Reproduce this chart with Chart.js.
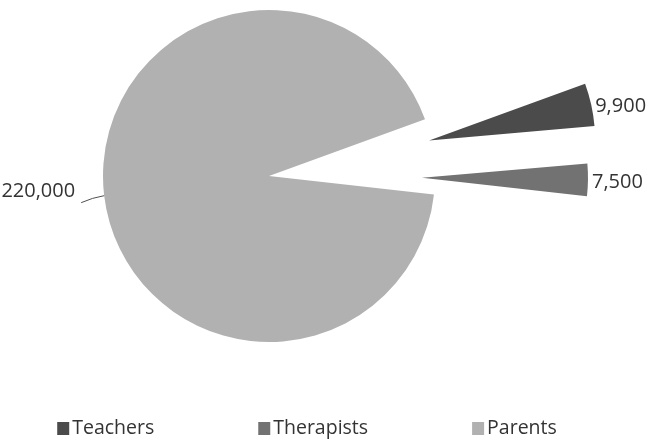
<!DOCTYPE html>
<html>
<head>
<meta charset="utf-8">
<script src="https://cdn.jsdelivr.net/npm/chart.js@4.4.0/dist/chart.umd.min.js"></script>
<style>
  html, body { margin: 0; padding: 0; background: #fff; }
</style>
</head>
<body>
<canvas id="canvas" width="646" height="441"></canvas>
<script>
var labels = ['Teachers', 'Therapists', 'Parents'];
var values = [9900, 7500, 220000];
var colors = ['#4b4b4b', '#727272', '#b1b1b1'];
// how far each slice is pulled out of the pie, px
var explodeBy = [164, 153, 0];

var textColor = '#333333';

// move the small slices out along their mid angle
var explode = {
    id: 'explode',
    afterDatasetUpdate: function (chart, args) {
        args.meta.data.forEach(function (arc, i) {
            var d = explodeBy[i] || 0;
            var mid = (arc.startAngle + arc.endAngle) / 2;
            arc.x += Math.cos(mid) * d;
            arc.y += Math.sin(mid) * d;
        });
    }
};

var valueLabels = {
    id: 'valueLabels',
    afterDatasetsDraw: function (chart) {
        var ctx = chart.ctx;
        var arcs = chart.getDatasetMeta(0).data;
        ctx.save();
        ctx.font = '20px "Open Sans"';
        ctx.fillStyle = textColor;
        ctx.textBaseline = 'middle';
        arcs.forEach(function (arc, i) {
            var mid = (arc.startAngle + arc.endAngle) / 2;
            var px = arc.x + Math.cos(mid) * arc.outerRadius;
            var py = arc.y + Math.sin(mid) * arc.outerRadius;
            var text = values[i].toLocaleString('en-US');
            if (explodeBy[i]) {
                ctx.textAlign = 'left';
                ctx.fillText(text, px + 4, py + 2);
            } else {
                // leader line for the big slice
                ctx.strokeStyle = '#505050';
                ctx.lineWidth = 1;
                ctx.beginPath();
                ctx.moveTo(px, py);
                ctx.quadraticCurveTo(px - 12, py + 2, px - 23, py + 7);
                ctx.stroke();
                ctx.textAlign = 'right';
                ctx.fillText(text, px - 29, py - 4);
            }
        });
        ctx.restore();
    }
};

// one row legend under the pie
var legendRow = {
    id: 'legendRow',
    afterDraw: function (chart) {
        var ctx = chart.ctx;
        var box = 12, textGap = 3, itemGap = 104;
        ctx.save();
        ctx.font = '19.5px "Open Sans"';
        ctx.textBaseline = 'middle';
        ctx.textAlign = 'left';
        var widths = labels.map(function (l) {
            return box + textGap + ctx.measureText(l).width;
        });
        var total = widths.reduce(function (a, b) { return a + b; }, 0) + itemGap * (labels.length - 1);
        var x = 307 - total / 2;
        var y = 428;
        labels.forEach(function (l, i) {
            ctx.fillStyle = colors[i];
            ctx.fillRect(x, y - 6, box, 13);
            ctx.fillStyle = textColor;
            ctx.fillText(l, x + box + textGap, y);
            x += widths[i] + itemGap;
        });
        ctx.restore();
    }
};

var config = {type: 'pie'};
config.data = {
    labels: labels,
    datasets: [{
        data: values,
        backgroundColor: colors,
        borderWidth: 0
    }]
};
config.options = {
    responsive: false,
    animation: false,
    events: [],
    rotation: 70,
    radius: 166,
    layout: {padding: {left: 0, right: 108, top: 0, bottom: 89}},
    plugins: {
        legend: {display: false},
        tooltip: {enabled: false}
    }
};
config.plugins = [explode, valueLabels, legendRow];

var pie = new Chart(document.getElementById('canvas'), config);
</script>
</body>
</html>
